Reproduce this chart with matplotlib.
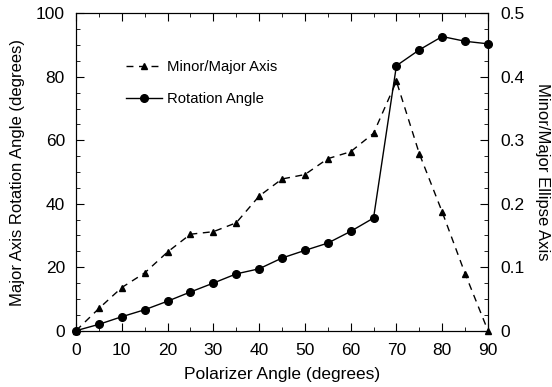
import matplotlib
matplotlib.use('Agg')
import matplotlib.pyplot as plt
from matplotlib.ticker import MultipleLocator, FormatStrFormatter

plt.rcParams['font.family'] = ['Liberation Sans', 'DejaVu Sans']

angle = [0, 5, 10, 15, 20, 25, 30, 35, 40, 45, 50, 55, 60, 65, 70, 75, 80, 85, 90]
rotation = [0, 2.0, 4.4, 6.6, 9.3, 12.2, 15.0, 17.9, 19.5, 22.9, 25.3, 27.6,
            31.3, 35.5, 83.5, 88.5, 92.7, 91.2, 90.4]
ratio = [0, 0.035, 0.068, 0.091, 0.124, 0.152, 0.156, 0.170, 0.212, 0.239,
         0.246, 0.271, 0.282, 0.311, 0.393, 0.279, 0.187, 0.090, 0]

fig = plt.figure(figsize=(5.52, 3.87), dpi=100)
ax = fig.add_axes([0.1377, 0.1455, 0.7463, 0.82])
ax2 = ax.twinx()

l1, = ax2.plot(angle, ratio, color='black', linestyle=(0, (5, 4)), linewidth=1,
               marker='^', markersize=5, label='Minor/Major Axis', clip_on=False)
l2, = ax.plot(angle, rotation, color='black', linewidth=1,
              marker='o', markersize=5.5, label='Rotation Angle', clip_on=False)

ax.set_xlim(0, 90)
ax.set_ylim(0, 100)
ax2.set_ylim(0, 0.5)

ax.xaxis.set_major_locator(MultipleLocator(10))
ax.xaxis.set_minor_locator(MultipleLocator(5))
ax.yaxis.set_major_locator(MultipleLocator(20))
ax.yaxis.set_minor_locator(MultipleLocator(5))
ax2.yaxis.set_major_locator(MultipleLocator(0.1))
ax2.yaxis.set_minor_locator(MultipleLocator(0.025))
ax2.yaxis.set_major_formatter(FormatStrFormatter('%g'))

ax.tick_params(which='both', direction='in', top=True, labelsize=12.5)
ax.tick_params(axis='x', pad=9)
ax.tick_params(axis='y', pad=8)
ax.tick_params(which='major', length=6)
ax.tick_params(which='minor', length=3)
ax2.tick_params(which='both', direction='in', labelsize=12.5, pad=9)
ax2.tick_params(which='major', length=6)
ax2.tick_params(which='minor', length=3)

ax.set_xlabel('Polarizer Angle (degrees)', fontsize=12.5, labelpad=6)
ax.set_ylabel('Major Axis Rotation Angle (degrees)', fontsize=12, labelpad=8)
ax2.set_ylabel('Minor/Major Ellipse Axis', fontsize=12, rotation=-90, labelpad=18)

ax.legend([l1, l2], ['Minor/Major Axis', 'Rotation Angle'], loc='upper left',
          bbox_to_anchor=(0.09, 0.896), frameon=False, fontsize=10.7,
          handlelength=2.4, labelspacing=1.25, handletextpad=0.3)

fig.savefig('out.png', dpi=100)
